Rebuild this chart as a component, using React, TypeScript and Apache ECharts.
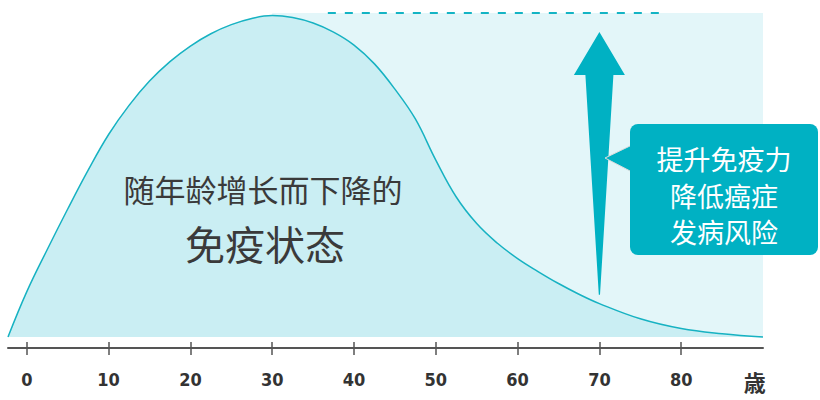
import * as echarts from 'echarts'
import React, { useEffect, useRef } from 'react'

// immunity curve (age -> level, 0..100)
const ages = [
  -2.3, 0, 2.5, 5, 7.5, 10, 12.5, 15, 17.5, 20, 22.5, 25, 27.5, 30, 32.5, 35, 37.5,
  40, 42.5, 45, 47.5, 50, 52.5, 55, 57.5, 60, 62.5, 65, 67.5, 70, 75, 80, 85, 90,
]
const immunity = [
  0, 14, 27, 39.5, 51.5, 62.5, 71.5, 79, 85, 89.8, 93.6, 96.4, 98.3, 99.2, 98.6, 96.9, 94.1,
  90.1, 84.3, 76.5, 67.3, 54.6, 43.2, 35.0, 29.0, 24.2, 20.2, 16.5, 13.2, 10.3, 5.6, 2.6, 1.0, 0,
]

const tickAges = [0, 10, 20, 30, 40, 50, 60, 70, 80]
const unitAge = 89
const unitLabel = '歳'

// shaded "ideal" zone and its dashed ceiling
const zoneFrom = 30
const zoneTo = 90
const zoneTop = 100
const dashFrom = 36.8
const dashTo = 77.4

// upward arrow at age 70: [age, bottom level, top level]
const arrow = [[70, 13, 94.1]]

const mainLines = ['随年龄增长而下降的', '免疫状态']
const calloutLines = ['提升免疫力', '降低癌症', '发病风险']

const teal = '#00b1c3'
const lineColor = '#17b2c2'
const numFont = "'Liberation Sans Narrow', 'DejaVu Sans Condensed', 'Roboto', 'Noto Sans CJK JP', sans-serif"
const cjkFont = "'Noto Sans CJK SC', sans-serif"

export default function App() {
  const chartRef = useRef<HTMLDivElement>(null)

  useEffect(() => {
    const chart = echarts.init(chartRef.current, null, { renderer: 'svg' })

    const option = {
      animation: false,
      grid: { left: 8, right: 57, top: 13, bottom: 52 },
      xAxis: [
        {
          type: 'value',
          min: -2.3,
          max: 90,
          position: 'bottom',
          splitLine: { show: false },
          axisLine: { show: true, onZero: false, lineStyle: { color: '#555', width: 2 } },
          axisTick: {
            show: true,
            customValues: tickAges,
            length: 7,
            lineStyle: { color: '#555', width: 1.5 },
          },
          axisLabel: {
            customValues: [...tickAges, unitAge],
            formatter: (v: number) => (v === unitAge ? '{u|' + unitLabel + '}' : String(v)),
            margin: 22,
            fontSize: 18,
            fontWeight: 'bold',
            color: '#333',
            fontFamily: numFont,
            rich: {
              u: {
                fontSize: 22,
                fontWeight: 'bold',
                color: '#333',
                fontFamily: "'Noto Sans CJK JP', sans-serif",
              },
            },
          },
        },
        {
          type: 'value',
          min: -2.3,
          max: 90,
          position: 'bottom',
          splitLine: { show: false },
          axisLine: { show: false, onZero: false },
          axisTick: {
            show: true,
            inside: true,
            customValues: tickAges,
            length: 6,
            lineStyle: { color: '#555', width: 1.5 },
          },
          axisLabel: { show: false },
        },
      ],
      yAxis: { type: 'value', min: -3.4, max: 100, show: false },
      series: [
        {
          type: 'line',
          z: 1,
          silent: true,
          data: [[zoneFrom, 0]],
          symbol: 'none',
          lineStyle: { width: 0 },
          markArea: {
            silent: true,
            itemStyle: { color: '#e3f6f9' },
            data: [[{ coord: [zoneFrom, 0] }, { coord: [zoneTo, zoneTop] }]],
          },
          markLine: {
            silent: true,
            symbol: ['none', 'none'],
            label: { show: false },
            lineStyle: { type: [8, 9], color: '#14b4c4', width: 2 },
            data: [[{ coord: [dashFrom, zoneTop] }, { coord: [dashTo, zoneTop] }]],
          },
        },
        {
          type: 'line',
          z: 3,
          silent: true,
          smooth: 0.4,
          symbol: 'none',
          data: ages.map((a, i) => [a, immunity[i]]),
          lineStyle: { color: lineColor, width: 1.5 },
          areaStyle: { color: '#caeef3', opacity: 1 },
        },
        {
          type: 'custom',
          z: 5,
          silent: true,
          data: arrow,
          renderItem: (params: any, api: any) => {
            const bottom = api.coord([api.value(0), api.value(1)])
            const top = api.coord([api.value(0), api.value(2)])
            const x = top[0]
            const headH = 43
            const headW = 25.5
            const shaftW = 14
            return {
              type: 'polygon',
              shape: {
                points: [
                  [x, top[1]],
                  [x + headW, top[1] + headH],
                  [x + shaftW, top[1] + headH],
                  [x + 0.6, bottom[1]],
                  [x - 0.6, bottom[1]],
                  [x - shaftW, top[1] + headH],
                  [x - headW, top[1] + headH],
                ],
              },
              style: { fill: teal },
            }
          },
        },
      ],
      graphic: [
        {
          type: 'text',
          z: 10,
          style: {
            text: mainLines[0],
            x: 263,
            y: 188,
            align: 'center',
            verticalAlign: 'middle',
            fontSize: 31,
            fontFamily: cjkFont,
            fill: '#3a3a3a',
          },
        },
        {
          type: 'text',
          z: 10,
          style: {
            text: mainLines[1],
            x: 265,
            y: 243,
            align: 'center',
            verticalAlign: 'middle',
            fontSize: 40,
            fontFamily: cjkFont,
            fill: '#3a3a3a',
          },
        },
        {
          type: 'polygon',
          z: 10,
          shape: { points: [[605, 158], [632, 145], [632, 172]] },
          style: { fill: teal, stroke: '#dcdcdc', lineWidth: 1 },
        },
        {
          type: 'rect',
          z: 11,
          shape: { x: 630, y: 124, width: 188, height: 131, r: 8 },
          style: { fill: teal },
        },
        ...calloutLines.map((t, i) => ({
          type: 'text',
          z: 12,
          style: {
            text: t,
            x: 724,
            y: [158, 195, 231][i],
            align: 'center',
            verticalAlign: 'middle',
            fontSize: 27,
            fontFamily: cjkFont,
            fill: '#ffffff',
          },
        })),
      ],
    }

    chart.setOption(option)

    return () => {
      chart.dispose()
    }
  }, [])

  return (
    <div
      ref={chartRef}
      style={{ position: 'absolute', left: 0, top: 0, width: '820px', height: '400px' }}
    />
  )
}
